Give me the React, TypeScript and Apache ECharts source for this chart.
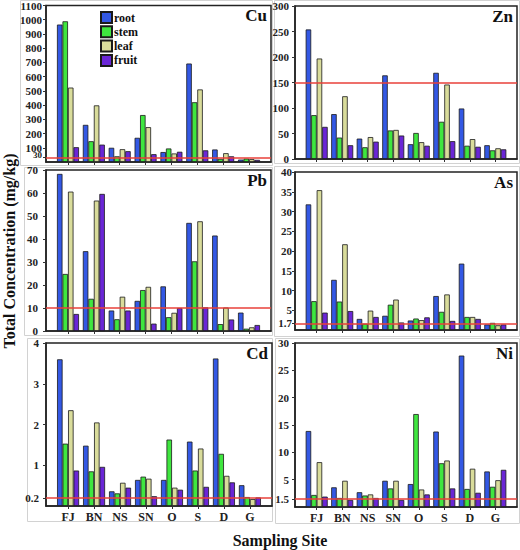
import React, { useEffect, useRef } from 'react';
import * as echarts from 'echarts';

const categories = ['FJ', 'BN', 'NS', 'SN', 'O', 'S', 'D', 'G'];
const organs = ['root', 'stem', 'leaf', 'fruit'];
const organColors = ['#3358e4', '#3fe63f', '#d9dc9b', '#6a26d6'];

const cuRoot = [966, 261, 100, 170, 70, 692, 88, 17];
const cuStem = [989, 146, 40, 330, 95, 420, 22, 24];
const cuLeaf = [523, 398, 90, 245, 60, 510, 62, 20];
const cuFruit = [104, 122, 76, 55, 72, 82, 40, 15];
const cuTicks = [0, 30, 100, 200, 300, 400, 500, 600, 700, 800, 900, 1000, 1100];

const znRoot = [254, 88, 40, 164, 29, 169, 99, 27];
const znStem = [86, 42, 23, 56, 51, 73, 26, 17];
const znLeaf = [197, 123, 43, 57, 33, 146, 39, 21];
const znFruit = [63, 27, 34, 46, 26, 35, 24, 19];
const znTicks = [0, 50, 100, 150, 200, 250, 300];

const pbRoot = [68.3, 34.7, 8.9, 13.1, 19.4, 47, 41.5, 8];
const pbStem = [24.8, 14, 5.1, 17.8, 6, 30.3, 3, 1];
const pbLeaf = [60.6, 56.7, 14.9, 19.2, 7.9, 47.7, 10.2, 1.6];
const pbFruit = [7.4, 59.6, 8.9, 3.2, 10, 10.3, 5, 2.6];
const pbTicks = [0, 10, 20, 30, 40, 50, 60, 70];

const asRoot = [31.8, 12.7, 2.8, 3.6, 2.4, 8.6, 16.8, 1.4];
const asStem = [7.3, 7.2, 1.6, 6.4, 2.9, 4.6, 3.3, 1.8];
const asLeaf = [35.4, 21.7, 4.9, 7.7, 2.5, 9.0, 3.3, 1.2];
const asFruit = [4.4, 4.8, 3.3, 1.9, 3.2, 2.3, 2.8, 1.4];
const asTicks = [0, 1.7, 5, 10, 15, 20, 25, 30, 35, 40];

const cdRoot = [3.6, 1.48, 0.36, 0.64, 0.64, 1.58, 3.62, 0.51];
const cdStem = [1.53, 0.85, 0.31, 0.72, 1.63, 0.87, 1.28, 0.22];
const cdLeaf = [2.35, 2.05, 0.57, 0.67, 0.45, 1.41, 0.74, 0.17];
const cdFruit = [0.87, 0.96, 0.45, 0.24, 0.4, 0.47, 0.58, 0.21];
const cdTicks = [0, 0.2, 1, 2, 3, 4];

const niRoot = [13.9, 3.6, 2.7, 4.8, 4.2, 13.8, 27.7, 6.5];
const niStem = [2.2, 1.65, 2.1, 3.4, 17, 8.0, 3.3, 3.7];
const niLeaf = [8.2, 4.8, 2.3, 4.8, 3.2, 8.5, 7.0, 4.9];
const niFruit = [1.9, 1.3, 1.65, 1.3, 2.3, 3.4, 2.6, 6.8];
const niTicks = [0, 1.5, 5, 10, 15, 20, 25, 30];

const metals = ['Cu', 'Zn', 'Pb', 'As', 'Cd', 'Ni'];
const metalSeries = [
  [cuRoot, cuStem, cuLeaf, cuFruit],
  [znRoot, znStem, znLeaf, znFruit],
  [pbRoot, pbStem, pbLeaf, pbFruit],
  [asRoot, asStem, asLeaf, asFruit],
  [cdRoot, cdStem, cdLeaf, cdFruit],
  [niRoot, niStem, niLeaf, niFruit],
];
const metalTicks = [cuTicks, znTicks, pbTicks, asTicks, cdTicks, niTicks];
const metalMax = [1100, 300, 70, 40, 4, 30];
const metalLimits = [30, 150, 10, 1.7, 0.2, 1.5];

// layout (pixels): [left, top, width, height]
const boxes = [
  [46, 5, 225, 157],
  [295, 6, 222, 153],
  [46, 170, 225, 161],
  [295, 172, 222, 158],
  [46, 343, 226, 163],
  [295, 343, 222, 164],
];
const frames = [
  [20, 0, 252, 165],
  [274, 0, 245, 163],
  [24, 167, 248, 168],
  [274, 166, 245, 170],
  [27, 338, 245, 183],
  [275, 338, 244, 185],
];
const labelMargins = [4, 6, 8, 3, 7, 6];

const FONT = '"Liberation Serif", "Times New Roman", serif';

export default function App() {
  const ref = useRef<HTMLDivElement>(null);
  useEffect(() => {
    if (!ref.current) return;
    const chart = echarts.init(ref.current, null, { renderer: 'svg' });
    const catIdx = categories.map((_, i) => i);

    const grid: any[] = [];
    const xAxis: any[] = [];
    const yAxis: any[] = [];
    const series: any[] = [];
    const title: any[] = [];
    const graphic: any[] = [];

    frames.forEach((f) => {
      graphic.push({
        type: 'rect',
        shape: { x: f[0] + 0.5, y: f[1] + 0.5, width: f[2], height: f[3] },
        style: { fill: 'none', stroke: '#d2d2d2', lineWidth: 1 },
        z: -10,
        silent: true,
      });
    });

    metals.forEach((m, i) => {
      const b = boxes[i];
      const bottomRow = i >= 4;
      const limit = metalLimits[i];
      grid.push({
        left: b[0],
        top: b[1],
        width: b[2],
        height: b[3],
        show: true,
        borderColor: '#222',
        borderWidth: 1.5,
        backgroundColor: 'transparent',
      });
      xAxis.push({
        type: 'value',
        gridIndex: i,
        min: -0.85,
        max: 7.85,
        splitLine: { show: false },
        axisLine: { show: true, onZero: false, lineStyle: { color: '#222', width: 1.5 } },
        axisTick: { show: true, customValues: catIdx, length: 3, lineStyle: { color: '#333' } },
        axisLabel: {
          show: bottomRow,
          customValues: catIdx,
          formatter: (v: number) => categories[Math.round(v)] ?? '',
          margin: 5,
          fontFamily: FONT,
          fontWeight: 'bold',
          fontSize: 12,
          color: '#222',
        },
      });
      yAxis.push({
        type: 'value',
        gridIndex: i,
        min: 0,
        max: metalMax[i],
        splitLine: { show: false },
        axisLine: { show: true, onZero: false, lineStyle: { color: '#222', width: 1.5 } },
        axisTick: { show: true, customValues: metalTicks[i], length: 3, lineStyle: { color: '#333' } },
        axisLabel: {
          customValues: metalTicks[i],
          margin: labelMargins[i],
          fontFamily: FONT,
          fontWeight: 'bold',
          fontSize: 11,
          color: '#222',
          formatter: (v: number) => {
            if (i === 0 && v === limit) return '{s|' + v + '}';
            if (i === 0 && v === 0) return '{z|0}';
            return String(v);
          },
          rich: {
            s: { fontFamily: FONT, fontWeight: 'bold', fontSize: 9, color: '#222', padding: [0, 0, 5, 0] },
            z: { fontFamily: FONT, fontWeight: 'bold', fontSize: 10, color: '#222', padding: [5, 0, 0, 0] },
          },
        },
      });
      title.push({
        text: m,
        right: 520 - (b[0] + b[2] - 4),
        top: b[1] + 2,
        padding: 0,
        textStyle: { fontFamily: FONT, fontWeight: 'bold', fontSize: 17, color: '#111' },
      });
      metalSeries[i].forEach((vals, k) => {
        const s: any = {
          name: organs[k],
          type: 'bar',
          xAxisIndex: i,
          yAxisIndex: i,
          barWidth: 5.5,
          barGap: '0%',
          data: vals.map((v, j) => [j, v]),
          itemStyle: { color: organColors[k], borderColor: '#1a1a1a', borderWidth: 0.8 },
        };
        if (k === 0) {
          s.markLine = {
            silent: true,
            symbol: 'none',
            label: { show: false },
            lineStyle: { color: '#e8403a', width: 1.5, type: 'solid' },
            data: [{ yAxis: limit }],
          };
        }
        series.push(s);
      });
    });

    graphic.push({
      type: 'text',
      x: 9,
      y: 251,
      rotation: Math.PI / 2,
      style: {
        text: 'Total Concentration (mg/kg)',
        fontFamily: FONT,
        fontWeight: 'bold',
        fontSize: 16,
        fill: '#111',
        align: 'center',
        verticalAlign: 'middle',
      },
    });
    graphic.push({
      type: 'text',
      x: 280,
      y: 540,
      style: {
        text: 'Sampling Site',
        fontFamily: FONT,
        fontWeight: 'bold',
        fontSize: 16,
        fill: '#111',
        align: 'center',
        verticalAlign: 'middle',
      },
    });

    chart.setOption({
      animation: false,
      backgroundColor: '#fff',
      title,
      grid,
      xAxis,
      yAxis,
      series,
      graphic,
      legend: {
        data: organs,
        orient: 'vertical',
        left: 100,
        top: 11,
        itemWidth: 11,
        itemHeight: 11,
        itemGap: 1.3,
        padding: 0,
        icon: 'rect',
        textStyle: { fontFamily: FONT, fontWeight: 'bold', fontSize: 12, color: '#111', lineHeight: 12, padding: [0, 0, 0, -3] },
      },
    });
    return () => chart.dispose();
  }, []);
  return <div ref={ref} style={{ position: 'absolute', left: 0, top: 0, width: 520, height: 550 }} />;
}
